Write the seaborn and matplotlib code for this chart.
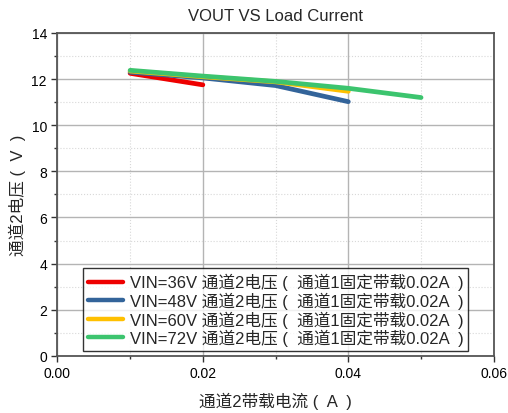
import matplotlib
matplotlib.use('Agg')
import matplotlib.pyplot as plt
from matplotlib.ticker import MultipleLocator
import numpy as np
import pandas as pd
import seaborn as sns

# values
current_36 = [0.01, 0.02]
vout_36 = [12.25, 11.75]
current_48 = [0.01, 0.02, 0.03, 0.04]
vout_48 = [12.30, 12.05, 11.72, 11.02]
current_60 = [0.01, 0.02, 0.03, 0.04]
vout_60 = [12.35, 12.10, 11.88, 11.47]
current_72 = [0.01, 0.02, 0.03, 0.04, 0.05]
vout_72 = [12.38, 12.13, 11.90, 11.60, 11.20]

suffix = ' 通道2电压 (  通道1固定带载0.02A  )'
labels = ['VIN=36V' + suffix, 'VIN=48V' + suffix, 'VIN=60V' + suffix, 'VIN=72V' + suffix]
colors = ['#ee0000', '#33649a', '#ffc000', '#3cc46e']

frames = []
for lab, xs, ys in zip(labels,
                       [current_36, current_48, current_60, current_72],
                       [vout_36, vout_48, vout_60, vout_72]):
    frames.append(pd.DataFrame({'current': xs, 'vout': ys, 'series': lab}))
df = pd.concat(frames, ignore_index=True)

sns.set_style('white')
plt.rcParams['font.family'] = ['Liberation Sans', 'Noto Sans CJK SC']

fig, ax = plt.subplots(figsize=(5.08, 4.14), dpi=100)
sns.lineplot(data=df, x='current', y='vout', hue='series', palette=colors,
             linewidth=3.4, ax=ax, zorder=3)

ax.set_xlim(0, 0.06)
ax.set_ylim(0, 14)
ax.xaxis.set_major_locator(MultipleLocator(0.02))
ax.xaxis.set_minor_locator(MultipleLocator(0.01))
ax.yaxis.set_major_locator(MultipleLocator(2))
ax.yaxis.set_minor_locator(MultipleLocator(1))
ax.xaxis.set_major_formatter(matplotlib.ticker.FormatStrFormatter('%.2f'))

ax.grid(which='major', color='#b4b4b4', linewidth=1.0, linestyle='-')
ax.grid(which='minor', color='#d8d8d8', linewidth=0.8, linestyle=':')
ax.tick_params(which='major', direction='out', length=4, width=1, colors='#333333',
               labelsize=10, labelcolor='black', bottom=True, left=True)
ax.tick_params(which='minor', direction='out', length=2.5, width=1, colors='#333333',
               bottom=True, left=True)
for s in ax.spines.values():
    s.set_color('#555555')
    s.set_linewidth(1.3)

ax.set_title('VOUT VS Load Current', fontsize=12, pad=9)
ax.set_xlabel('通道2带载电流 (  A  )', fontsize=12, labelpad=8)
ax.set_ylabel('通道2电压 (  V  )', fontsize=12, labelpad=4)

leg = ax.legend(loc='lower center', bbox_to_anchor=(0.5, 0.0), fontsize=12,
                frameon=True, fancybox=False, edgecolor='black', handlelength=2.1,
                borderpad=0.28, labelspacing=0.08, handletextpad=0.4,
                borderaxespad=0.3)
leg.get_frame().set_linewidth(1.0)
for line in leg.get_lines():
    line.set_linewidth(3.2)

plt.subplots_adjust(left=0.113, right=0.972, top=0.918, bottom=0.138)
plt.savefig('out.png', dpi=100)
